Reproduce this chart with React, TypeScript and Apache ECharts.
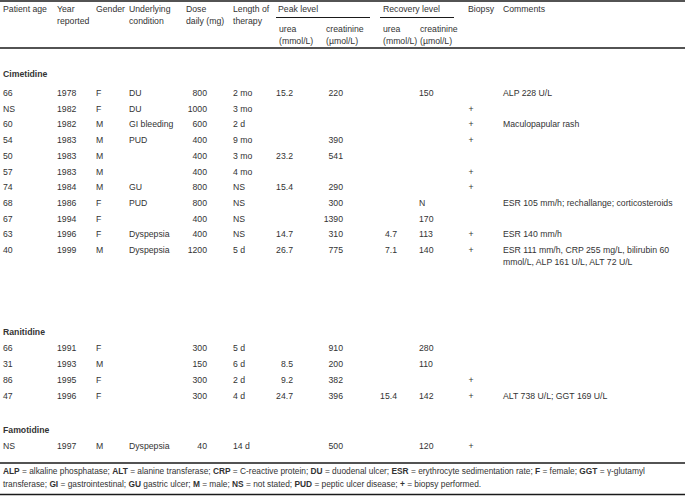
import React, { useEffect, useRef } from "react";
import * as echarts from "echarts";

// ---- table content ----
const headerTop = ["Patient age", "Year", "Gender", "Underlying", "Dose", "Length of", "Peak level", "Recovery level", "Biopsy", "Comments"];
const headerSecond = ["", "reported", "", "condition", "daily (mg)", "therapy"];
const subHeaderTop = ["urea", "creatinine", "urea", "creatinine"];
const subHeaderUnits = ["(mmol/L)", "(\u00b5mol/L)", "(mmol/L)", "(\u00b5mol/L)"];

const drugGroups = ["Cimetidine", "Ranitidine", "Famotidine"];
const groupOfRow = [0, 0, 0, 0, 0, 0, 0, 0, 0, 0, 0, 1, 1, 1, 1, 2];

const patientAge = ["66", "NS", "60", "54", "50", "57", "74", "68", "67", "63", "40", "66", "31", "86", "47", "NS"];
const yearReported = ["1978", "1982", "1982", "1983", "1983", "1983", "1984", "1986", "1994", "1996", "1999", "1991", "1993", "1995", "1996", "1997"];
const gender = ["F", "F", "M", "M", "M", "M", "M", "F", "F", "F", "M", "F", "M", "F", "F", "M"];
const condition = ["DU", "DU", "GI bleeding", "PUD", "", "", "GU", "PUD", "", "Dyspepsia", "Dyspepsia", "", "", "", "", "Dyspepsia"];
const doseDaily = ["800", "1000", "600", "400", "400", "400", "800", "800", "400", "400", "1200", "300", "150", "300", "300", "40"];
const therapyLength = ["2 mo", "3 mo", "2 d", "9 mo", "3 mo", "4 mo", "NS", "NS", "NS", "NS", "5 d", "5 d", "6 d", "2 d", "4 d", "14 d"];
const peakUrea = ["15.2", "", "", "", "23.2", "", "15.4", "", "", "14.7", "26.7", "", "8.5", "9.2", "24.7", ""];
const peakCreatinine = ["220", "", "", "390", "541", "", "290", "300", "1390", "310", "775", "910", "200", "382", "396", "500"];
const recoveryUrea = ["", "", "", "", "", "", "", "", "", "4.7", "7.1", "", "", "", "15.4", ""];
const recoveryCreatinine = ["150", "", "", "", "", "", "", "N", "170", "113", "140", "280", "110", "", "142", "120"];
const biopsy = ["", "+", "+", "+", "", "+", "+", "", "", "+", "+", "", "", "+", "+", "+"];
const comments = [
  "ALP 228 U/L", "", "Maculopapular rash", "", "", "", "",
  "ESR 105 mm/h; rechallange; corticosteroids", "", "ESR 140 mm/h",
  "ESR 111 mm/h, CRP 255 mg/L, bilirubin 60\nmmol/L, ALP 161 U/L, ALT 72 U/L",
  "", "", "", "ALT 738 U/L; GGT 169 U/L", "",
];

const footnoteLine1 = "{b|ALP} = alkaline phosphatase; {b|ALT} = alanine transferase; {b|CRP} = C-reactive protein; {b|DU} = duodenal ulcer; {b|ESR} = erythrocyte sedimentation rate; {b|F} = female; {b|GGT} = \u03b3-glutamyl";
const footnoteLine2 = "transferase; {b|GI} = gastrointestinal; {b|GU} gastric ulcer; {b|M} = male; {b|NS} = not stated; {b|PUD} = peptic ulcer disease; {b|+} = biopsy performed.";

// ---- layout ----
const W = 685;
const H = 497;
const FONT = "Liberation Sans, Arial, sans-serif";
const FS = 8.7;
const FN = 8.35;
const TXT = "#333";
const LINE = "#1a1a1a";

const groupTitleY = [74, 332, 430];
const groupFirstRowY = [93, 348, 446];
const groupRowStep = [15.7, 16, 16];

type Col = { x: number; align: "left" | "right" | "center"; values: string[] };
const columns: Col[] = [
  { x: 3, align: "left", values: patientAge },
  { x: 57, align: "left", values: yearReported },
  { x: 96, align: "left", values: gender },
  { x: 129, align: "left", values: condition },
  { x: 207, align: "right", values: doseDaily },
  { x: 233, align: "left", values: therapyLength },
  { x: 293, align: "right", values: peakUrea },
  { x: 343, align: "right", values: peakCreatinine },
  { x: 397, align: "right", values: recoveryUrea },
  { x: 419, align: "left", values: recoveryCreatinine },
  { x: 471, align: "center", values: biopsy },
  { x: 503, align: "left", values: comments },
];

function txt(text: string, x: number, y: number, align: string = "left", bold = false, size = FS): any {
  return {
    type: "text",
    x,
    y,
    silent: true,
    style: {
      text,
      fill: TXT,
      font: `${bold ? "bold " : ""}${size}px ${FONT}`,
      align,
      verticalAlign: "middle",
      lineHeight: 12,
    },
  };
}

function hline(x1: number, x2: number, y: number, w: number): any {
  return {
    type: "line",
    silent: true,
    shape: { x1, y1: y, x2, y2: y },
    style: { stroke: LINE, lineWidth: w },
  };
}

function buildGraphic() {
  const els: any[] = [];
  // rules
  els.push(hline(0, W, 1, 1.6));
  els.push(hline(276, 370, 17.5, 1));
  els.push(hline(380, 454, 17.5, 1));
  els.push(hline(0, W, 48, 1.4));
  els.push(hline(0, W, 463, 1.4));
  els.push(hline(0, W, 494.5, 1.4));

  // header
  const headerX = [3, 57, 96, 129, 186, 233, 278, 383, 468, 503];
  headerTop.forEach((h, i) => els.push(txt(h, headerX[i], 9)));
  headerSecond.forEach((h, i) => { if (h) els.push(txt(h, headerX[i], 21)); });
  const subX = [279, 326, 383, 420];
  subHeaderTop.forEach((h, i) => els.push(txt(h, subX[i], 29)));
  subHeaderUnits.forEach((h, i) => els.push(txt(h, subX[i], 41)));

  // groups
  drugGroups.forEach((g, gi) => els.push(txt(g, 3, groupTitleY[gi], "left", true)));

  // rows
  const counters = drugGroups.map(() => 0);
  groupOfRow.forEach((gi, r) => {
    const y = groupFirstRowY[gi] + counters[gi] * groupRowStep[gi];
    counters[gi] += 1;
    columns.forEach((c) => {
      const v = c.values[r];
      if (!v) return;
      els.push(txt(v, c.x, v.includes("\n") ? y + 6 : y, c.align));
    });
  });

  // footnote
  const rich = {
    b: { fontWeight: "bold", fontSize: FN, fontFamily: FONT, fill: TXT },
  };
  [footnoteLine1, footnoteLine2].forEach((line, i) => {
    els.push({
      type: "text",
      x: 3,
      y: 471 + i * 13,
      silent: true,
      style: {
        text: line,
        fill: TXT,
        font: `${FN}px ${FONT}`,
        align: "left",
        verticalAlign: "middle",
        rich,
      },
    });
  });
  return els;
}

export default function App() {
  const ref = useRef<HTMLDivElement>(null);
  useEffect(() => {
    if (!ref.current) return;
    const chart = echarts.init(ref.current, undefined, { renderer: "svg" });
    chart.setOption({
      animation: false,
      backgroundColor: "#ffffff",
      graphic: { elements: buildGraphic() },
    });
    return () => chart.dispose();
  }, []);
  return (
    <div
      ref={ref}
      style={{ position: "fixed", left: 0, top: 0, width: W, height: H, background: "#fff" }}
    />
  );
}
